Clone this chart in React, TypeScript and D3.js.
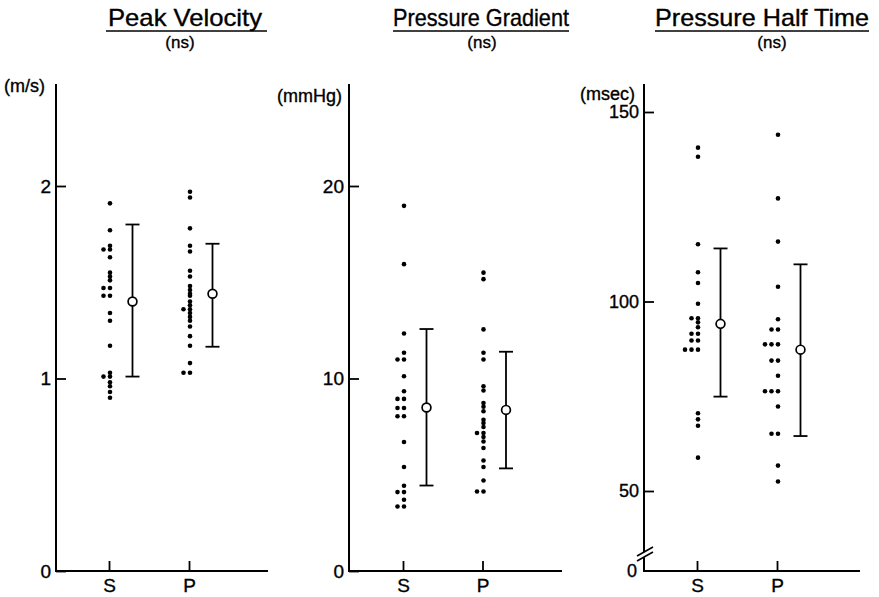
import React, { useEffect, useRef } from "react";
import * as d3 from "d3";

const groups = ["S", "P"];

// Peak Velocity (m/s)
const velocityS = [1.91, 1.77, 1.69, 1.67, 1.67, 1.63, 1.55, 1.53, 1.51, 1.47, 1.47, 1.43, 1.43, 1.34, 1.3, 1.17, 1.03, 1.01, 1.01, 0.98, 0.96, 0.93, 0.9];
const velocityP = [1.97, 1.94, 1.78, 1.69, 1.66, 1.56, 1.53, 1.48, 1.46, 1.44, 1.43, 1.4, 1.38, 1.36, 1.36, 1.34, 1.32, 1.3, 1.27, 1.22, 1.17, 1.08, 1.03, 1.03];
const velocityMean = [1.4, 1.44];
const velocityLow = [1.01, 1.165];
const velocityHigh = [1.8, 1.7];
const velocityTicks = [0, 1, 2];

// Pressure Gradient (mmHg)
const gradientS = [18.97, 15.94, 12.34, 11.34, 10.99, 10.99, 10.12, 9.34, 8.94, 8.94, 8.47, 8.47, 8.04, 8.04, 6.7, 5.4, 4.43, 4.1, 4.1, 3.7, 3.35, 3.35];
const gradientP = [15.5, 15.16, 12.55, 11.34, 10.99, 9.6, 9.38, 8.73, 8.53, 8.3, 7.86, 7.69, 7.48, 7.17, 7.17, 6.96, 6.73, 6.39, 5.74, 5.4, 4.7, 4.13, 4.13];
const gradientMean = [8.49, 8.37];
const gradientLow = [4.44, 5.33];
const gradientHigh = [12.57, 11.39];
const gradientTicks = [0, 10, 20];

// Pressure Half Time (msec)
const halfTimeS = [140.6, 138.2, 115.1, 107.7, 104.9, 99.4, 95.6, 95.6, 94.5, 93.2, 91.5, 91.5, 89.7, 89.7, 87.3, 87.3, 87.3, 70.5, 68.9, 67.2, 58.8];
const halfTimeP = [144.0, 127.2, 115.8, 103.9, 95.3, 92.6, 92.6, 88.7, 88.7, 88.7, 84.4, 84.4, 80.4, 76.3, 76.3, 76.3, 72.3, 65.1, 65.1, 56.7, 52.5];
const halfTimeMean = [94.1, 87.3];
const halfTimeLow = [74.9, 64.5];
const halfTimeHigh = [114.0, 109.8];
const halfTimeTicks = [50, 100, 150];

const FONT = "'Liberation Sans', Arial, Helvetica, sans-serif";
const BASE = 571;
const TOP = 84;

const panels = [
  {
    title: "Peak Velocity", titleX: 185, titleLen: 154, lineX: [106, 267], nsX: 180,
    unit: "(m/s)", unitX: 4, unitY: 92, tickFont: 19,
    axisX: 56, xEnd: 268, sX: 109, pX: 189,
    domain: [0, 2], range: [BASE, 186], ticks: velocityTicks,
    dots: [velocityS, velocityP], mean: velocityMean, low: velocityLow, high: velocityHigh,
  },
  {
    title: "Pressure Gradient", titleX: 481, titleLen: 176, lineX: [393, 569], nsX: 482,
    unit: "(mmHg)", unitX: 277, unitY: 102, tickFont: 19,
    axisX: 349, xEnd: 562, sX: 403, pX: 482.5,
    domain: [0, 20], range: [BASE, 186], ticks: gradientTicks,
    dots: [gradientS, gradientP], mean: gradientMean, low: gradientLow, high: gradientHigh,
  },
  {
    title: "Pressure Half Time", titleX: 762, titleLen: 214, lineX: [655, 869], nsX: 772,
    unit: "(msec)", unitX: 580, unitY: 100, tickFont: 18,
    axisX: 644, xEnd: 860, sX: 697, pX: 777,
    domain: [50, 150], range: [491, 112], ticks: halfTimeTicks,
    dots: [halfTimeS, halfTimeP], mean: halfTimeMean, low: halfTimeLow, high: halfTimeHigh,
    broken: true,
  },
];

// scanned print looks a bit heavier than the regular face
const ink = (sel: any) => sel.attr("fill", "#000").attr("stroke", "#000").attr("stroke-width", 0.35);

const App = () => {
  const ref = useRef<SVGSVGElement>(null);

  useEffect(() => {
    const svg = d3.select(ref.current);
    svg.selectAll("*").remove();

    panels.forEach((p: any) => {
      const g = svg.append("g");
      const y = d3.scaleLinear().domain(p.domain).range(p.range);
      const x = d3.scalePoint().domain(groups).range([p.sX, p.pX]);

      // title + underline
      g.append("text")
        .attr("x", p.titleX)
        .attr("y", 26)
        .attr("text-anchor", "middle")
        .attr("textLength", p.titleLen)
        .attr("lengthAdjust", "spacingAndGlyphs")
        .style("font-family", FONT)
        .style("font-size", "24px")
        .call(ink)
        .text(p.title);
      g.append("line")
        .attr("x1", p.lineX[0]).attr("x2", p.lineX[1])
        .attr("y1", 31).attr("y2", 31)
        .attr("stroke", "#000").attr("stroke-width", 1.6);
      g.append("text")
        .attr("x", p.nsX)
        .attr("y", 48)
        .attr("text-anchor", "middle")
        .style("font-family", FONT)
        .style("font-size", "17px")
        .call(ink)
        .text("(ns)");

      // unit label
      g.append("text")
        .attr("x", p.unitX)
        .attr("y", p.unitY)
        .style("font-family", FONT)
        .style("font-size", "18px")
        .call(ink)
        .text(p.unit);

      // axis lines
      g.append("line")
        .attr("x1", p.axisX).attr("x2", p.axisX)
        .attr("y1", TOP).attr("y2", BASE + 1)
        .attr("stroke", "#000").attr("stroke-width", 2);
      g.append("line")
        .attr("x1", p.axisX).attr("x2", p.xEnd)
        .attr("y1", BASE).attr("y2", BASE)
        .attr("stroke", "#000").attr("stroke-width", 2);

      // y ticks
      const yAxis = g.append("g")
        .attr("transform", `translate(${p.axisX},0)`)
        .call(
          d3.axisLeft(y)
            .tickValues(p.ticks)
            .tickFormat(d3.format("d"))
            .tickSizeInner(-10)
            .tickSizeOuter(0)
            .tickPadding(5)
        );
      yAxis.select(".domain").remove();
      yAxis.selectAll("line").attr("stroke", "#000").attr("stroke-width", 1.8);
      yAxis.selectAll("text")
        .style("font-family", FONT)
        .style("font-size", p.tickFont + "px")
        .call(ink);

      if (p.broken) {
        // zero label and axis break
        g.append("text")
          .attr("x", p.axisX - 7)
          .attr("y", BASE)
          .attr("dy", "0.34em")
          .attr("text-anchor", "end")
          .style("font-family", FONT)
          .style("font-size", p.tickFont + "px")
          .call(ink)
          .text("0");
        g.append("polygon")
          .attr("points", `${p.axisX - 6},${556} ${p.axisX + 8},${548} ${p.axisX + 8},${553} ${p.axisX - 6},${561}`)
          .attr("fill", "#fff");
        [0, 5].forEach((o) => {
          g.append("line")
            .attr("x1", p.axisX - 7).attr("y1", 556 + o)
            .attr("x2", p.axisX + 9).attr("y2", 547 + o)
            .attr("stroke", "#000").attr("stroke-width", 1.6);
        });
      }

      // x ticks
      const xAxis = g.append("g")
        .attr("transform", `translate(0,${BASE})`)
        .call(d3.axisBottom(x).tickSizeInner(-10).tickSizeOuter(0).tickPadding(8));
      xAxis.select(".domain").remove();
      xAxis.selectAll("line").attr("stroke", "#000").attr("stroke-width", 1.8);
      xAxis.selectAll("text")
        .style("font-family", FONT)
        .style("font-size", "19px")
        .call(ink);

      // dots, duplicates shifted left
      groups.forEach((grp, gi) => {
        const seen = new Map<number, number>();
        const pts = p.dots[gi].map((v: number) => {
          const k = seen.get(v) || 0;
          seen.set(v, k + 1);
          return { v, k };
        });
        g.append("g")
          .selectAll("circle")
          .data(pts)
          .enter()
          .append("circle")
          .attr("cx", (d: any) => (x(grp) as number) + 1 - d.k * 6.5)
          .attr("cy", (d: any) => y(d.v))
          .attr("r", 2.3)
          .attr("fill", "#000");

        // mean and range
        const ex = (x(grp) as number) + 23.5;
        g.append("line")
          .attr("x1", ex).attr("x2", ex)
          .attr("y1", y(p.high[gi])).attr("y2", y(p.low[gi]))
          .attr("stroke", "#000").attr("stroke-width", 1.8);
        [p.high[gi], p.low[gi]].forEach((v) => {
          g.append("line")
            .attr("x1", ex - 7).attr("x2", ex + 7)
            .attr("y1", y(v)).attr("y2", y(v))
            .attr("stroke", "#000").attr("stroke-width", 1.8);
        });
        g.append("circle")
          .attr("cx", ex)
          .attr("cy", y(p.mean[gi]))
          .attr("r", 4.4)
          .attr("fill", "#fff")
          .attr("stroke", "#000")
          .attr("stroke-width", 1.7);
      });
    });
  }, []);

  return (
    <svg
      ref={ref}
      width={879}
      height={597}
      style={{ position: "absolute", left: 0, top: 0, background: "#fff" }}
    ></svg>
  );
};

export default App;
